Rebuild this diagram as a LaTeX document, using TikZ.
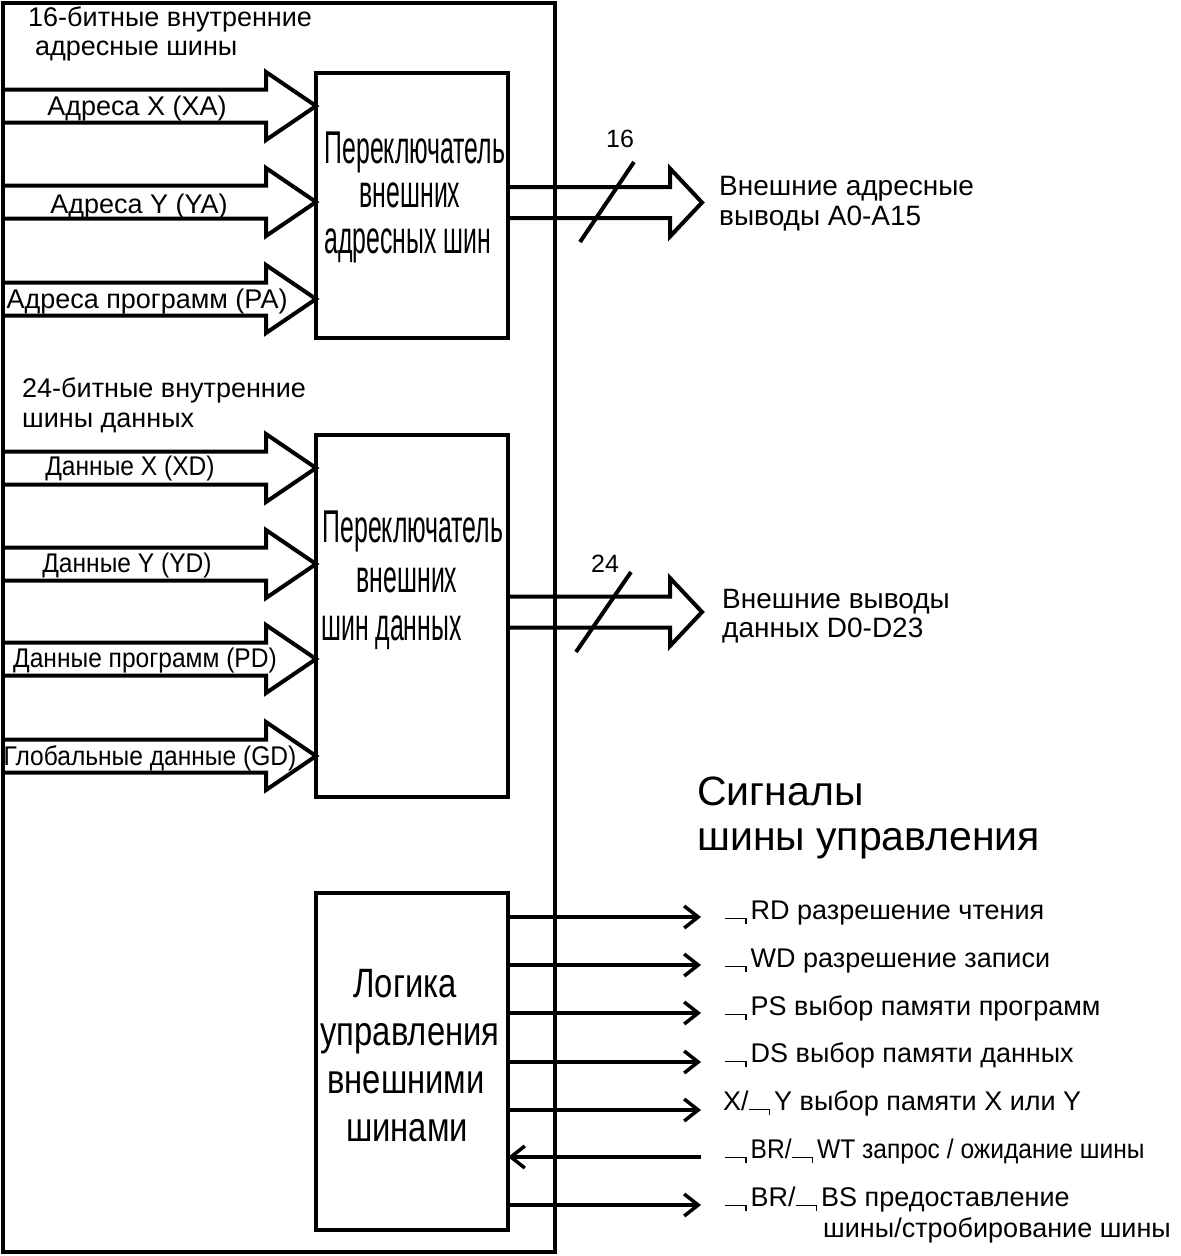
\documentclass[tikz,border=0pt]{standalone}
\usepackage{fontspec}
\setmainfont{Liberation Sans}
\newfontfamily\narrowfont[FakeStretch=0.54]{Liberation Sans}
\newfontfamily\semifont[FakeStretch=0.8]{Liberation Sans}
\newfontfamily\condfont[FakeStretch=0.91]{Liberation Sans}
\usetikzlibrary{arrows.meta,calc}
\newcommand\nb{\rule{20pt}{1.5pt}\rule[-5pt]{1.5pt}{6.5pt}\hspace{4pt}}
\newcommand\busarrow[5]{\draw[bus] ($(#1)+(0,-#3)$) -- ($(#2)+(-#5,-#3)$) -- ($(#2)+(-#5,-#4)$) -- (#2) -- ($(#2)+(-#5,#4)$) -- ($(#2)+(-#5,#3)$) -- ($(#1)+(0,#3)$);}
\begin{document}
\begin{tikzpicture}[x=1pt,y=-1pt,
  frame/.style={line width=4.5pt},
  box/.style={draw,line width=4pt,inner sep=0pt,outer sep=0pt,minimum width=192pt},
  bus/.style={line width=4pt,line join=miter},
  sig/.style={line width=3.5pt,-{Straight Barb[length=14pt,width=22pt,line width=3.5pt]}},
  slash/.style={line width=4pt},
  lbl/.style={anchor=base west,inner sep=0pt,font=\fontsize{27}{30}\selectfont},
  lblc/.style={anchor=base,inner sep=0pt,font=\fontsize{27}{30}\selectfont},
  dlbl/.style={anchor=base,inner sep=0pt,font=\condfont\fontsize{27}{30}\selectfont},
  num/.style={anchor=base,inner sep=0pt,font=\fontsize{25}{30}\selectfont},
  outl/.style={anchor=base west,inner sep=0pt,font=\fontsize{28}{30}\selectfont},
  boxt/.style={anchor=base,inner sep=0pt,font=\narrowfont\fontsize{46}{50}\selectfont},
  boxtl/.style={anchor=base west,inner sep=0pt,font=\narrowfont\fontsize{46}{50}\selectfont},
  logt/.style={anchor=base,inner sep=0pt,font=\semifont\fontsize{41}{46}\selectfont},
  title/.style={anchor=base west,inner sep=0pt,font=\fontsize{41}{46}\selectfont}]
\useasboundingbox (0,0) rectangle (1181,1256);
% outer frame
\draw[frame] (3,3) rectangle (555,1252);
% boxes
\node[box,minimum height=265pt] (asw) at (412,205.5) {};
\node[box,minimum height=362pt] (dsw) at (412,616) {};
\node[box,minimum height=337pt] (logic) at (412,1061.5) {};
% box texts
\node[boxt] (asw1) at (415,163) {Переключатель};
\node[boxt] (asw2) at (410,207) {внешних};
\node[boxt] (asw3) at (408,253) {адресных шин};
\node[boxt] (dsw1) at (413,542) {Переключатель};
\node[boxt] (dsw2) at (407,592) {внешних};
\node[boxtl] (dsw3) at (321,640) {шин данных};
\node[logt] (lg1) at (405,997) {Логика};
\node[logt] (lg2) at (410,1045) {управления};
\node[logt] (lg3) at (406,1093) {внешними};
\node[logt] (lg4) at (407,1141) {шинами};
% headers
\node[lbl] (h1) at (28,26) {16-битные внутренние};
\node[lbl] (h2) at (35,55) {адресные шины};
\node[lbl] (h3) at (22,397) {24-битные внутренние};
\node[lbl] (h4) at (22,427) {шины данных};
% input bus coordinates
\foreach \n/\y in {xa/106,ya/202,pa/299,xd/468,yd/564,pd/659,gd/756}{
  \coordinate (\n s) at (3,\y);
  \coordinate (\n) at (316,\y);
}
\busarrow{xas}{xa}{16.5}{34}{50}
\busarrow{yas}{ya}{16.5}{34}{50}
\busarrow{pas}{pa}{16.5}{34}{50}
\busarrow{xds}{xd}{16.5}{34}{50}
\busarrow{yds}{yd}{16.5}{34}{50}
\busarrow{pds}{pd}{16.5}{34}{50}
\busarrow{gds}{gd}{16.5}{34}{50}
\node[lblc] (lxa) at (137,115) {Адреса X (XA)};
\node[lblc] (lya) at (139,213) {Адреса Y (YA)};
\node[lblc] (lpa) at (147,308) {Адреса программ (PA)};
\node[dlbl] (lxd) at (130,475) {Данные X (XD)};
\node[dlbl] (lyd) at (127,572) {Данные Y (YD)};
\node[dlbl] (lpd) at (145,667) {Данные программ (PD)};
\node[dlbl] (lgd) at (150,765) {Глобальные данные (GD)};
% output buses
\coordinate (ao) at (702,202.5);
\coordinate (do) at (702,612);
\busarrow{asw.east |- ao}{ao}{15.5}{34}{32}
\busarrow{dsw.east |- do}{do}{15.5}{34}{32}
\coordinate (sl1a) at (580,242);
\coordinate (sl1b) at (634,162);
\coordinate (sl2a) at (576,652);
\coordinate (sl2b) at (631,572);
\draw[slash] (sl1a) -- (sl1b);
\draw[slash] (sl2a) -- (sl2b);
\node[num] (n16) at (620,147) {16};
\node[num] (n24) at (605,572) {24};
\node[outl] (ao1) at (719,195) {Внешние адресные};
\node[outl] (ao2) at (719,225) {выводы A0-A15};
\node[outl] (do1) at (722,608) {Внешние выводы};
\node[outl] (do2) at (722,637) {данных D0-D23};
% control bus title
\node[title] (t1) at (697,805) {Сигналы};
\node[title] (t2) at (697,850) {шины управления};
% control signals
\foreach \n/\y in {1/917,2/965,3/1013,4/1062,5/1110,6/1157,7/1205}{
  \coordinate (s\n) at (701,\y);
}
\draw[sig] (logic.east |- s1) -- (s1);
\draw[sig] (logic.east |- s2) -- (s2);
\draw[sig] (logic.east |- s3) -- (s3);
\draw[sig] (logic.east |- s4) -- (s4);
\draw[sig] (logic.east |- s5) -- (s5);
\draw[sig] (s6) -- (logic.east |- s6);
\draw[sig] (logic.east |- s7) -- (s7);
\node[lbl] (c1) at (725,919) {\nb RD разрешение чтения};
\node[lbl] (c2) at (725,967) {\nb WD разрешение записи};
\node[lbl] (c3) at (725,1015) {\nb PS выбор памяти программ};
\node[lbl] (c4) at (725,1062) {\nb DS выбор памяти данных};
\node[lbl] (c5) at (723,1110) {X/\nb Y выбор памяти X или Y};
\node[lbl,font=\condfont\fontsize{27}{30}\selectfont] (c6) at (725,1158) {\nb BR/\nb WT запрос / ожидание шины};
\node[lbl] (c7) at (725,1206) {\nb BR/\nb BS предоставление};
\node[lbl] (c8) at (823,1237) {шины/стробирование шины};
\end{tikzpicture}
\end{document}
